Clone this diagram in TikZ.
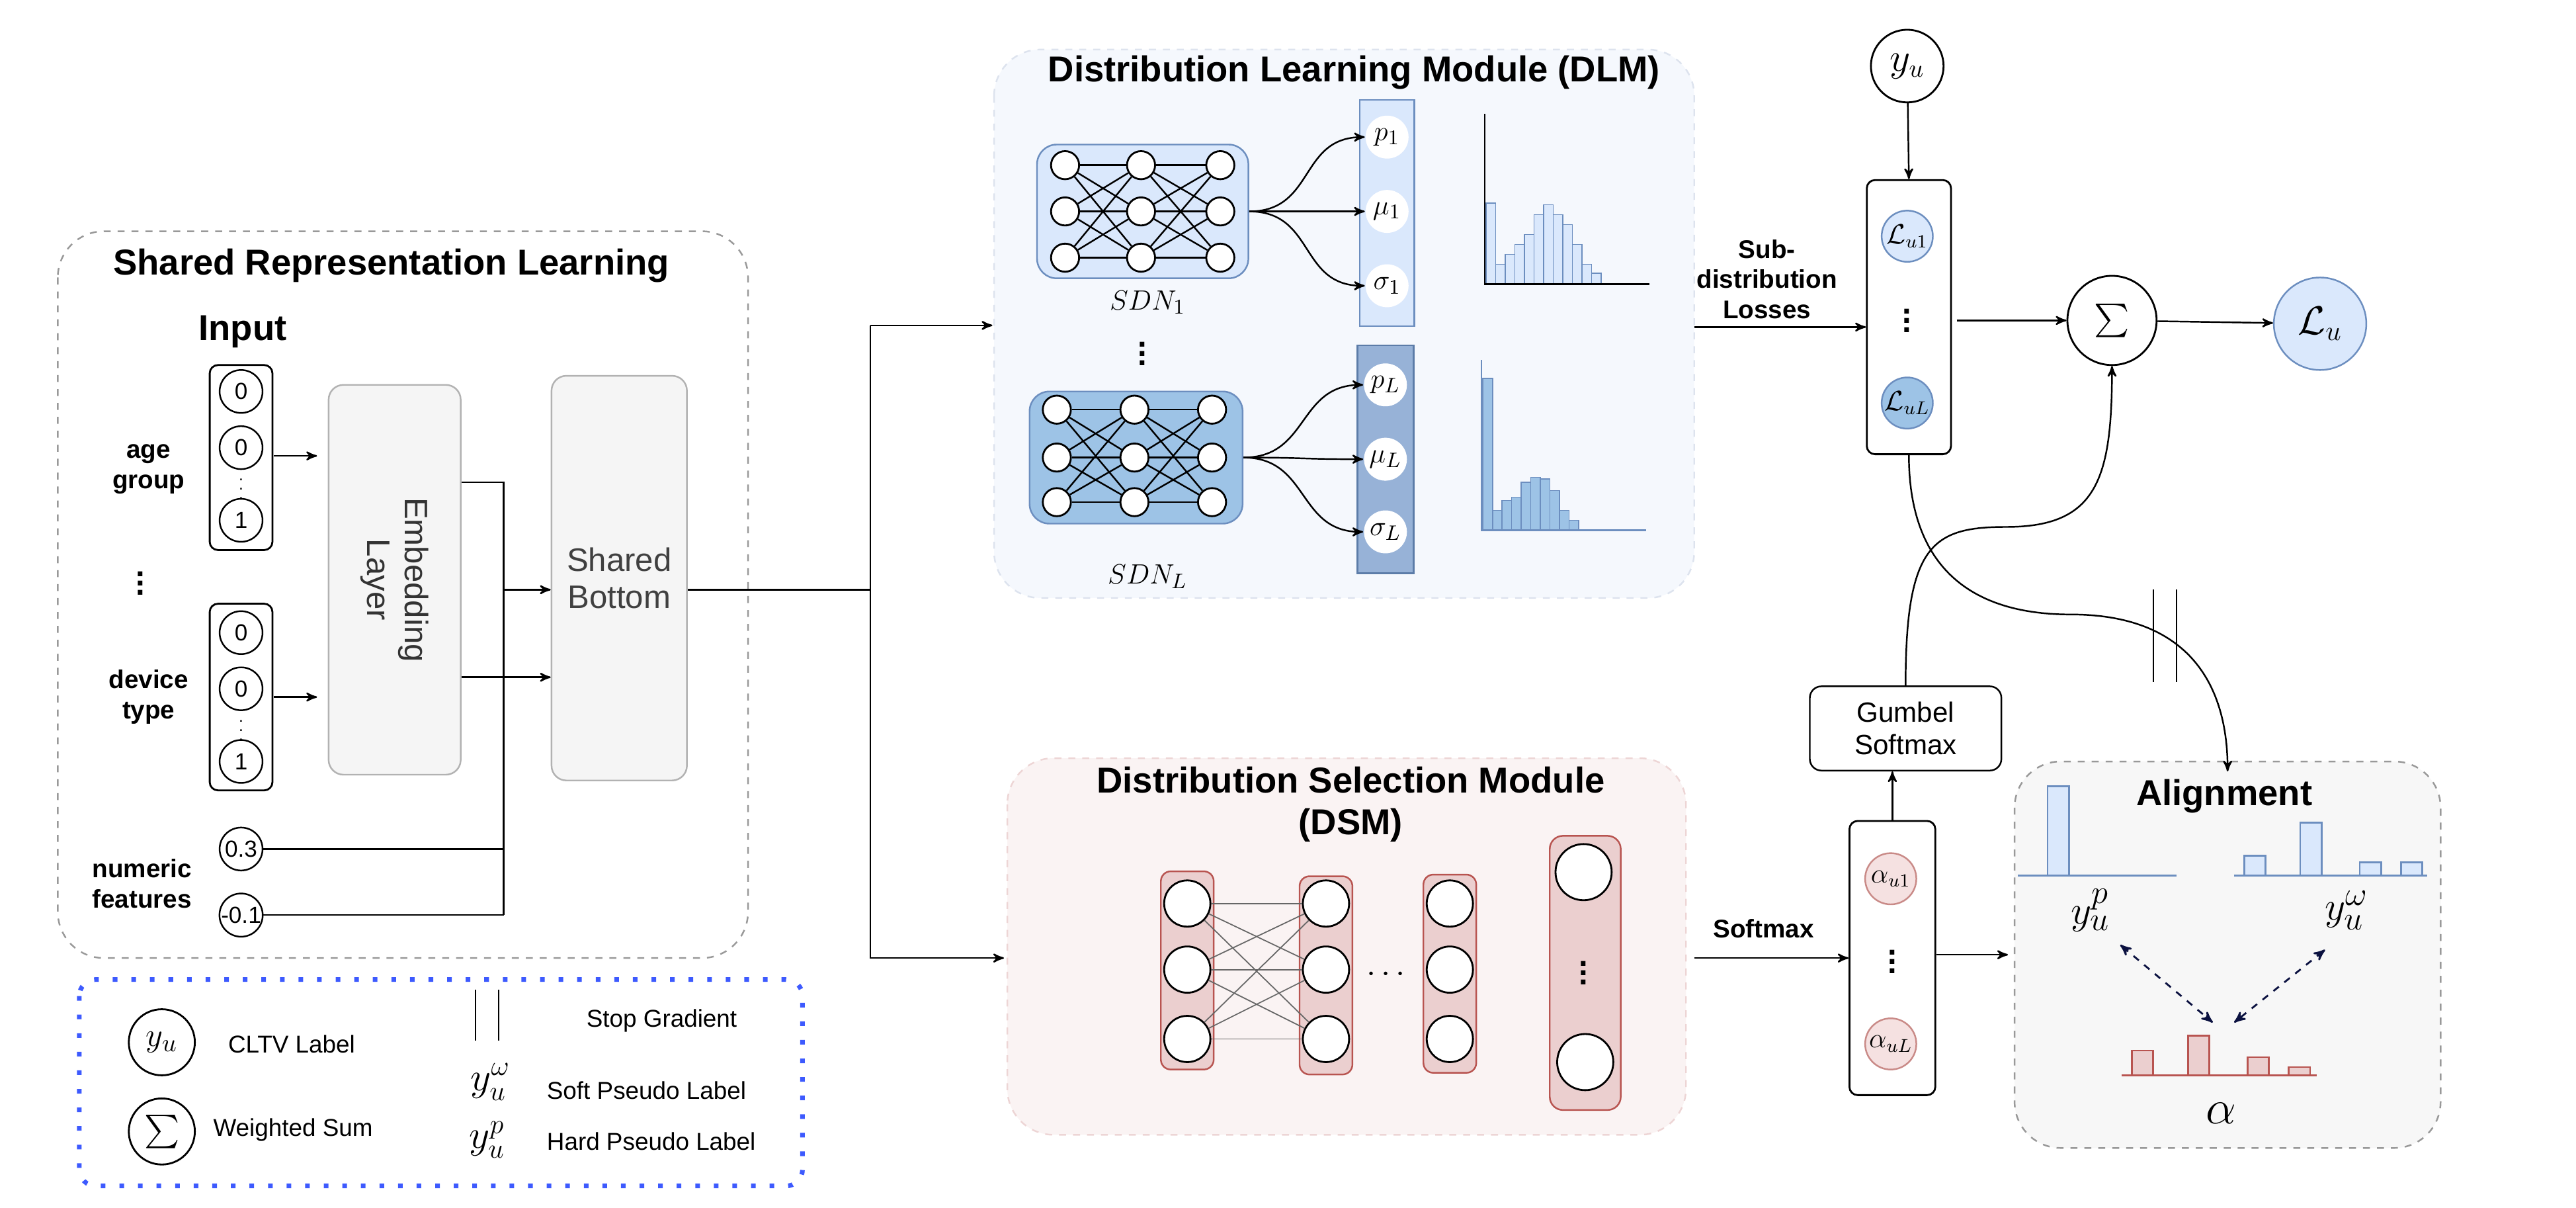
\documentclass[tikz,border=0pt]{standalone}
\usepackage{fontspec}
\setmainfont{Liberation Sans}
\usepackage{amsmath}
\usetikzlibrary{arrows,positioning}

\definecolor{blueL}{HTML}{DAE8FC}
\definecolor{blueD}{HTML}{6C8EBF}
\definecolor{blueM}{HTML}{9DC3E6}
\definecolor{blueC}{HTML}{97B2D7}
\definecolor{blueCD}{HTML}{5C7CA8}
\definecolor{redL}{HTML}{EBCFCF}
\definecolor{redD}{HTML}{B85450}
\definecolor{redA}{HTML}{F5E1E1}
\definecolor{redAD}{HTML}{C98A87}
\definecolor{dsmBg}{HTML}{FAF3F3}
\definecolor{dsmLn}{HTML}{EDD5D5}
\definecolor{dlmBg}{HTML}{F5F8FD}
\definecolor{dlmLn}{HTML}{DDE3EE}
\definecolor{navy}{HTML}{0B1140}
\definecolor{legBlue}{HTML}{3D5AFE}

\def\u{0.025cm}
\tikzset{
  module/.style={rounded corners=28*\u, dashed, line width=0.7pt},
  vec/.style={draw, rounded corners=5*\u, line width=0.8pt},
  bit/.style={draw, circle, inner sep=0pt, minimum size=26*\u, font=\fontsize{10}{10}\selectfont},
  neur/.style={draw, circle, fill=white, inner sep=0pt, minimum size=17*\u, line width=0.8pt},
  dneur/.style={draw, circle, fill=white, inner sep=0pt, minimum size=28*\u, line width=0.8pt},
  par/.style={circle, fill=white, inner sep=0pt, minimum size=26*\u, font=\fontsize{13}{13}\selectfont},
  lbl/.style={font=\bfseries\fontsize{11}{13}\selectfont, align=center},
  ttl/.style={font=\bfseries\fontsize{15.5}{18}\selectfont, align=center},
  box/.style={draw=black!30, fill=black!4, rounded corners=9*\u, line width=0.7pt},
  hbar/.style={draw=blueD, fill=blueL, line width=0.5pt},
  lbar/.style={draw=blueD, fill=blueM, line width=0.5pt},
  abar/.style={draw=redD, fill=redL, line width=0.8pt},
  sym/.style={draw, circle, inner sep=0pt, line width=0.8pt},
  legtxt/.style={font=\fontsize{10.5}{10.5}\selectfont, anchor=west},
  lossc/.style={circle, inner sep=0pt, minimum size=31*\u, font=\fontsize{12}{12}\selectfont},
}

\begin{document}
\begin{tikzpicture}[x=\u,y=-\u,->,>=stealth',line width=0.7pt]
  \useasboundingbox (0,0) rectangle (1560,731);

  % backgrounds of the modules
  \draw[module, draw=black!40, -] (35,140) rectangle (453,580);
  \draw[module, draw=dlmLn, fill=dlmBg, -] (602,30) rectangle (1026,362);
  \draw[module, draw=dsmLn, fill=dsmBg, -] (610,459) rectangle (1021,687);
  \draw[module, draw=black!40, fill=black!3, -] (1220,461) rectangle (1478,695);
  \draw[legBlue, line width=2pt, dash pattern=on 2pt off 6pt, rounded corners=10*\u, -] (48,593) rectangle (486,718);

  \node[ttl] at (237,161) {Shared Representation Learning};
  \node[ttl] at (820,44) {Distribution Learning Module (DLM)};
  \node[ttl] at (818,487) {Distribution Selection Module\\(DSM)};
  \node[ttl] at (1347,482) {Alignment};

  % inputs
  \node[ttl] (inp) at (147,201) {Input};
  \node[vec, minimum width=38*\u, minimum height=112*\u] (age) at (146,277) {};
  \node[bit] (a1) at (146,237) {0};
  \node[bit] (a2) at (146,271) {0};
  \node[bit] (a3) at (146,315) {1};
  \node[font=\fontsize{7}{7}\selectfont] at (146,292) {$\vdots$};
  \node[lbl] at (90,284) {age\\group};
  \node[font=\bfseries\fontsize{14}{14}\selectfont] at (85,349) {$\vdots$};
  \node[vec, minimum width=38*\u, minimum height=113*\u] (dev) at (146,422) {};
  \node[bit] (d1) at (146,383) {0};
  \node[bit] (d2) at (146,417) {0};
  \node[bit] (d3) at (146,461) {1};
  \node[font=\fontsize{7}{7}\selectfont] at (146,438) {$\vdots$};
  \node[lbl] at (90,422) {device\\type};
  \node[bit] (n1) at (146,514) {0.3};
  \node[bit] (n2) at (146,554) {-0.1};
  \node[lbl] at (86,535) {numeric\\features};

  \node[box, minimum width=80*\u, minimum height=236*\u] (emb) at (239,351) {};
  \node[rotate=-90, align=center, text=black!80, font=\fontsize{14}{16}\selectfont] at (emb) {Embedding\\Layer};
  \node[box, minimum width=82*\u, minimum height=245*\u, align=center, text=black!75,
        font=\fontsize{14}{16}\selectfont] (sb) at (375,350) {Shared\\Bottom};

  \draw (166,276) -- (192,276);
  \draw (166,422) -- (192,422);
  \coordinate (j1) at (305,292);
  \draw[-] (emb.east |- j1) -- (j1) -- (305,554);
  \draw (emb.east |- 0,410) -- (sb.west |- 0,410);
  \draw (305,357) -- (sb.west |- 0,357);
  \draw[-] (n1) -- (305,514);
  \draw[-] (n2) -- (305,554);

  % split to the two modules
  \coordinate (sp) at (527,357);
  \draw[-] (sb.east |- sp) -- (sp);
  \draw (527,197) |- (601,197);
  \draw (527,197) -- (527,580) -- (608,580);

  % sub-distribution networks
  \node[draw=blueD, fill=blueL, rounded corners=12*\u, minimum width=128*\u, minimum height=81*\u] (sdn1) at (692,128) {};
  \node[draw=blueD, fill=blueM, rounded corners=12*\u, minimum width=129*\u, minimum height=80*\u] (sdnL) at (688,277) {};
  \foreach \c/\x in {1/645,2/691,3/739}
    \foreach \r/\y in {1/100,2/128,3/156}
      \node[neur] (f\c\r) at (\x,\y) {};
  \foreach \c/\x in {1/640,2/687,3/734}
    \foreach \r/\y in {1/248,2/277,3/304}
      \node[neur] (g\c\r) at (\x,\y) {};
  \foreach \r in {1,2,3}
    \foreach \s in {1,2,3} {
      \draw[-] (f1\r) -- (f2\s); \draw[-] (f2\r) -- (f3\s);
      \draw[-] (g1\r) -- (g2\s); \draw[-] (g2\r) -- (g3\s);
    }
  \node[font=\fontsize{13}{13}\selectfont] at (695,183) {$SDN_1$};
  \node[font=\bfseries\fontsize{14}{14}\selectfont] at (692,210) {$\vdots$};
  \node[font=\fontsize{13}{13}\selectfont] at (695,349) {$SDN_L$};

  \node[draw=blueD, fill=blueL, minimum width=33*\u, minimum height=137*\u] (col1) at (840,129) {};
  \node[draw=blueCD, fill=blueC, minimum width=34*\u, minimum height=138*\u] (colL) at (839,278) {};
  \node[par] (p1) at (840,83) {$p_1$};
  \node[par] (m1) at (840,128) {$\mu_1$};
  \node[par] (s1) at (840,173) {$\sigma_1$};
  \node[par] (pL) at (839,233) {$p_L$};
  \node[par] (mL) at (839,278) {$\mu_L$};
  \node[par] (sL) at (839,322) {$\sigma_L$};
  \foreach \t in {p1,m1,s1}
    \draw (sdn1.east) .. controls +(40,0) and +(-40,0) .. (\t.west);
  \foreach \t in {pL,mL,sL}
    \draw (sdnL.east) .. controls +(40,0) and +(-40,0) .. (\t.west);

  % histograms
  \foreach \h [count=\i from 0] in {49,12,18,24,30,42,48,42,36,24,12,6.5}
    \draw[hbar, -] (900+\i*5.8,172) rectangle ++(5.8,-\h);
  \draw[-, line width=0.6pt] (899,69) -- (899,172) -- (999,172);
  \foreach \h [count=\i from 0] in {92,12,18,20,29,32,31,24,12,6}
    \draw[lbar, -] (898+\i*5.8,321) rectangle ++(5.8,-\h);
  \draw[-, draw=blueD, line width=0.6pt] (897,218) -- (897,321) -- (997,321);

  % losses
  \node[sym, minimum size=44*\u, font=\fontsize{16}{16}\selectfont] (yu) at (1155,40) {$y_u$};
  \node[vec, minimum width=51*\u, minimum height=166*\u] (loss) at (1156,192) {};
  \node[lossc, draw=blueD, fill=blueL] (l1) at (1155,143) {$\mathcal{L}_{u1}$};
  \node[lossc, draw=blueD, fill=blueM] (lL) at (1155,244) {$\mathcal{L}_{uL}$};
  \node[font=\bfseries\fontsize{14}{14}\selectfont] at (1155,190) {$\vdots$};
  \node[lbl] at (1070,169) {Sub-\\distribution\\Losses};
  \draw (1026,198) -- (loss.west |- 0,198);
  \draw (yu) -- (loss.north);
  \node[sym, minimum size=54*\u, font=\fontsize{15}{15}\selectfont] (sum) at (1279,194) {$\sum$};
  \node[draw=blueD, fill=blueL, circle, inner sep=0pt, minimum size=56*\u, font=\fontsize{18}{18}\selectfont] (lu) at (1405,196) {$\mathcal{L}_u$};
  \draw (1185,194) -- (sum);
  \draw (sum) -- (lu);

  % selection network
  \foreach \n/\x/\t in {1/719/527,2/803/530,3/878/529}
    \node[draw=redD, fill=redL, rounded corners=6*\u, minimum width=32*\u, minimum height=120*\u, anchor=north] (c\n) at (\x,\t) {};
  \node[draw=redD, fill=redL, rounded corners=8*\u, minimum width=43*\u, minimum height=166*\u] (c4) at (960,589) {};
  \foreach \n/\x in {1/719,2/803,3/878}
    \foreach \r/\y in {1/547,2/587,3/629}
      \node[dneur] (e\n\r) at (\x,\y) {};
  \foreach \r in {1,2,3}
    \foreach \s in {1,2,3}
      \draw[-, black!60, line width=0.5pt] (e1\r) -- (e2\s);
  \node[font=\bfseries\fontsize{14}{14}\selectfont] at (841,590) {$\cdots$};
  \node[dneur, minimum size=34*\u] (o1) at (959,528) {};
  \node[dneur, minimum size=34*\u] (o2) at (960,643) {};
  \node[font=\bfseries\fontsize{14}{14}\selectfont] at (959,585) {$\vdots$};

  \node[lbl] at (1068,562) {Softmax};
  \node[vec, minimum width=52*\u, minimum height=166*\u] (alp) at (1146,580) {};
  \node[lossc, draw=redAD, fill=redA] (al1) at (1145,532) {$\alpha_{u1}$};
  \node[lossc, draw=redAD, fill=redA] (alL) at (1145,632) {$\alpha_{uL}$};
  \node[font=\bfseries\fontsize{14}{14}\selectfont] at (1146,578) {$\vdots$};
  \draw (1026,580) -- (alp.west |- 0,580);
  \node[draw, rounded corners=7*\u, minimum width=116*\u, minimum height=51*\u, align=center,
        font=\fontsize{12}{14}\selectfont] (gum) at (1154,441) {Gumbel\\Softmax};
  \draw (alp.north -| 1146,0) -- (gum.south -| 1146,0);
  \draw (alp.east |- 0,578) -- (1216,578);

  % gradient paths
  \draw (gum.north) .. controls (1154,330) and (1170,319) .. (1215,319)
        .. controls (1270,319) and (1279,290) .. (sum.south);
  \coordinate (al) at (1349,467);
  \draw (loss.south) .. controls (1156,340) and (1190,372) .. (1254,372)
        .. controls (1330,372) and (1349,420) .. (al);
  \draw[-] (1304,357) -- (1304,413);
  \draw[-] (1318,357) -- (1318,413);

  % alignment
  \draw[hbar, line width=0.8pt, -] (1240,530) rectangle (1253,476);
  \draw[-, blueD, line width=0.8pt] (1222,530) -- (1318,530);
  \foreach \x/\t in {1359/518,1393/498,1429/522,1454/522}
    \draw[hbar, line width=0.8pt, -] (\x,530) rectangle ++(13,\t-530);
  \draw[-, blueD, line width=0.8pt] (1353,530) -- (1470,530);
  \foreach \x/\t in {1291/636,1325/627,1361/640,1386/646}
    \draw[abar, -] (\x,651) rectangle ++(13,\t-651);
  \draw[-, redD, line width=0.8pt] (1285,651) -- (1403,651);
  \node[font=\fontsize{19}{19}\selectfont] (yp) at (1266,551) {$y_u^p$};
  \node[font=\fontsize{19}{19}\selectfont] (yw) at (1421,551) {$y_u^\omega$};
  \node[font=\fontsize{20}{20}\selectfont] (alpha) at (1345,674) {$\alpha$};
  \draw[<->, navy, dashed, line width=0.8pt] (1284,572) -- (1340,619);
  \draw[<->, navy, dashed, line width=0.8pt] (1408,575) -- (1353,619);

  % legend
  \node[sym, minimum size=40*\u, font=\fontsize{15}{15}\selectfont] (ly) at (98,631) {$y_u$};
  \node[legtxt] at (133,632) {CLTV Label};
  \node[sym, minimum size=40*\u, font=\fontsize{14}{14}\selectfont] (ls) at (98,685) {$\sum$};
  \node[legtxt] at (124,684) {Weighted Sum};
  \draw[-, line width=0.5pt] (288,599) -- (288,630);
  \draw[-, line width=0.5pt] (302,599) -- (302,630);
  \node[legtxt] at (350,618) {Stop Gradient};
  \node[font=\fontsize{18}{18}\selectfont] at (297,655) {$y_u^\omega$};
  \node[legtxt] at (326,660) {Soft Pseudo Label};
  \node[font=\fontsize{18}{18}\selectfont] at (295,690) {$y_u^p$};
  \node[legtxt] at (326,691) {Hard Pseudo Label};
\end{tikzpicture}
\end{document}
